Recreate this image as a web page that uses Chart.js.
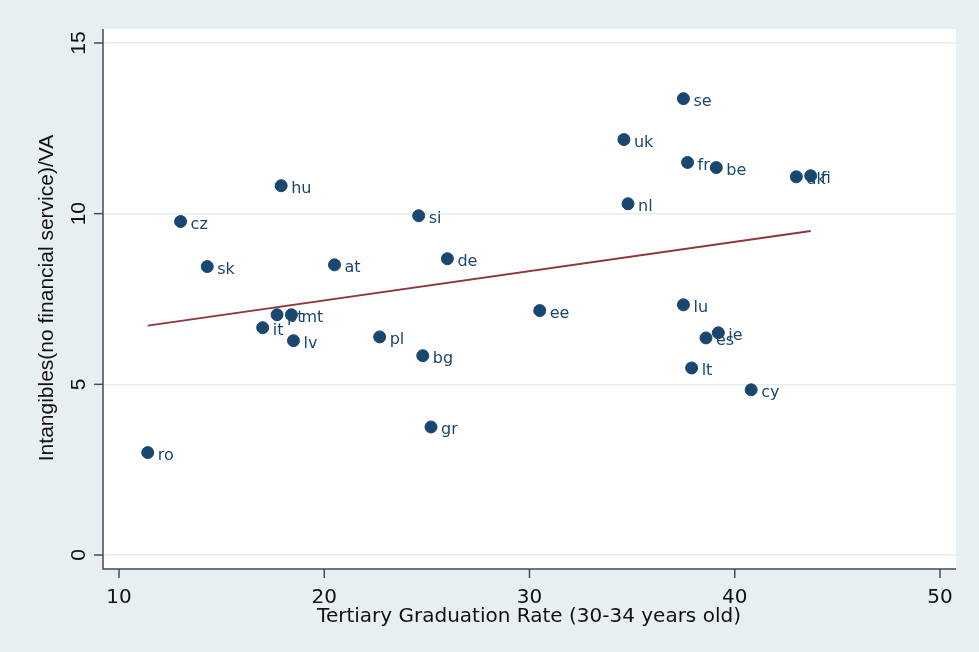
<!DOCTYPE html>
<html>
<head>
<meta charset="utf-8">
<script src="https://cdn.jsdelivr.net/npm/chart.js@4"></script>
<style>
  html, body { margin: 0; padding: 0; background: #e8eff2; }
  #wrap { width: 979px; height: 652px; }
</style>
</head>
<body>
<div id="wrap"><canvas id="c" width="979" height="652"></canvas></div>
<script>
// country codes, graduation rate (x) and intangibles share (y)
const countries = ['ro','cz','sk','hu','it','pt','mt','lv','at','pl','si','bg','gr','de','ee',
                   'uk','nl','se','lu','fr','be','es','ie','lt','cy','dk','fi'];
const gradRate = [11.4, 13.0, 14.3, 17.9, 17.0, 17.7, 18.4, 18.5, 20.5, 22.7, 24.6, 24.8, 25.2, 26.0, 30.5,
                  34.6, 34.8, 37.5, 37.5, 37.7, 39.1, 38.6, 39.2, 37.9, 40.8, 43.0, 43.7];
const intangibles = [3.0, 9.77, 8.45, 10.82, 6.66, 7.04, 7.04, 6.28, 8.50, 6.39, 9.94, 5.84, 3.75, 8.68, 7.16,
                     12.17, 10.29, 13.37, 7.33, 11.50, 11.35, 6.36, 6.51, 5.48, 4.84, 11.08, 11.11];
// fitted line end points
const fitX = [11.4, 43.7];
const fitY = [6.72, 9.49];
const xTicks = [10, 20, 30, 40, 50];
const yTicks = [0, 5, 10, 15];

const navy = '#1a476f';
const maroon = '#90353b';
const gridCol = '#e4edf1';
const axisCol = '#4a4a4a';
const xFont = '20px "DejaVu Sans", Verdana, sans-serif';
const yFont = '21px "Liberation Sans", Arial, sans-serif';

const decor = {
    id: 'decor',
    beforeDraw(chart) {
        const ctx = chart.ctx, a = chart.chartArea;
        ctx.save();
        ctx.fillStyle = '#e8eff2';
        ctx.fillRect(0, 0, chart.width, chart.height);
        ctx.fillStyle = '#ffffff';
        ctx.fillRect(a.left, a.top, a.right - a.left, a.bottom - a.top);
        ctx.restore();
    },
    afterDraw(chart) {
        const ctx = chart.ctx, a = chart.chartArea;
        const xs = chart.scales.x, ys = chart.scales.y;
        ctx.save();
        ctx.strokeStyle = axisCol;
        ctx.lineWidth = 1.5;
        ctx.beginPath();
        ctx.moveTo(a.left, a.top); ctx.lineTo(a.left, a.bottom); ctx.lineTo(a.right, a.bottom);
        ctx.stroke();
        ctx.fillStyle = '#111';
        ctx.textAlign = 'center'; ctx.textBaseline = 'middle';
        // x ticks
        ctx.font = xFont;
        xTicks.forEach(v => {
            const px = xs.getPixelForValue(v);
            ctx.beginPath(); ctx.moveTo(px, a.bottom); ctx.lineTo(px, a.bottom + 9); ctx.stroke();
            ctx.fillText(String(v), px, 598);
        });
        ctx.fillText('Tertiary Graduation Rate (30-34 years old)', 529, 617);
        // y ticks (rotated)
        ctx.font = yFont;
        yTicks.forEach(v => {
            const py = ys.getPixelForValue(v);
            ctx.beginPath(); ctx.moveTo(a.left, py); ctx.lineTo(a.left - 9, py); ctx.stroke();
            ctx.save();
            ctx.translate(79, py); ctx.rotate(-Math.PI / 2);
            ctx.fillText(String(v), 0, 0);
            ctx.restore();
        });
        ctx.save();
        ctx.translate(47, 298); ctx.rotate(-Math.PI / 2);
        ctx.fillText('Intangibles(no financial service)/VA', 0, 0);
        ctx.restore();
        // marker labels
        const meta = chart.getDatasetMeta(0);
        ctx.fillStyle = navy;
        ctx.font = '16px "DejaVu Sans", Verdana, sans-serif';
        ctx.textAlign = 'left';
        meta.data.forEach((pt, i) => {
            ctx.fillText(countries[i], pt.x + 10, pt.y + 3);
        });
        ctx.restore();
    }
};

new Chart(document.getElementById('c'), {
    type: 'scatter',
    data: {
        datasets: [{
            data: gradRate.map((x, i) => ({ x: x, y: intangibles[i] })),
            backgroundColor: navy,
            borderColor: navy,
            pointRadius: 6,
            pointHoverRadius: 6
        }, {
            type: 'line',
            data: fitX.map((x, i) => ({ x: x, y: fitY[i] })),
            borderColor: maroon,
            borderWidth: 2,
            pointRadius: 0,
            fill: false
        }]
    },
    options: {
        responsive: false,
        animation: false,
        events: [],
        layout: { padding: { left: 103, top: 29, right: 23, bottom: 83 } },
        plugins: { legend: { display: false }, tooltip: { enabled: false } },
        scales: {
            x: {
                type: 'linear', min: 9.22, max: 50.78,
                ticks: { display: false },
                grid: { display: false, drawTicks: false },
                border: { display: false }
            },
            y: {
                type: 'linear', min: -0.41, max: 15.41,
                ticks: { display: false, stepSize: 5, includeBounds: false },
                grid: { color: gridCol, lineWidth: 1.5, drawTicks: false },
                border: { display: false }
            }
        }
    },
    plugins: [decor]
});
</script>
</body>
</html>
